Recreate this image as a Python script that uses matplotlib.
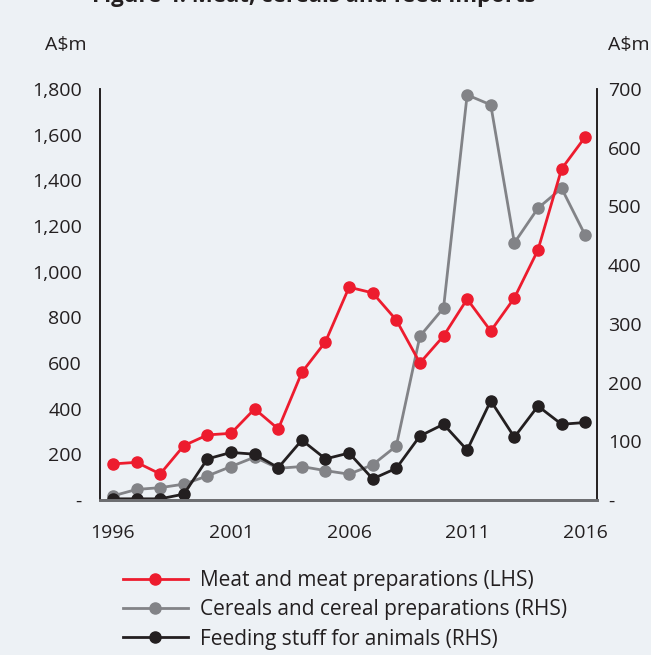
import matplotlib.pyplot as plt

plt.rcParams['font.family'] = ['Open Sans', 'DejaVu Sans']

years = list(range(1996, 2017))

# A$m, left axis
meat = [158, 165, 114, 238, 285, 292, 399, 311, 559, 693, 932,
        907, 788, 600, 718, 880, 740, 885, 1095, 1450, 1590]
# A$m, right axis
cereals = [7, 18, 21, 27, 41, 57, 73, 54, 57, 50, 44,
           60, 92, 279, 327, 690, 673, 438, 497, 531, 451]
feed = [2, 2, 2, 10, 70, 81, 78, 55, 102, 70, 80,
        36, 54, 109, 129, 85, 169, 107, 160, 129, 132]

left_ticks = [0, 200, 400, 600, 800, 1000, 1200, 1400, 1600, 1800]
left_labels = ['-', '200', '400', '600', '800', '1,000', '1,200', '1,400', '1,600', '1,800']
right_ticks = [0, 100, 200, 300, 400, 500, 600, 700]
right_labels = ['-', '100', '200', '300', '400', '500', '600', '700']
x_ticks = [1996, 2001, 2006, 2011, 2016]

bg = '#edf1f5'
red = '#ed1c2e'
grey = '#828387'
black = '#231f20'
txt = '#231f20'

fig = plt.figure(figsize=(6.51, 6.55), dpi=100, facecolor=bg)
ax = fig.add_axes([100/651, 155/655, 497/651, 411/655])
ax2 = ax.twinx()
ax.set_zorder(ax2.get_zorder() + 1)
ax.patch.set_visible(False)
ax2.set_facecolor(bg)

ax2.plot(years, cereals, color=grey, lw=2, marker='o', ms=8, label='Cereals and cereal preparations (RHS)')
ax2.plot(years, feed, color=black, lw=2, marker='o', ms=8, label='Feeding stuff for animals (RHS)')
ax.plot(years, meat, color=red, lw=2, marker='o', ms=8, label='Meat and meat preparations (LHS)')

ax.set_xlim(1995.45, 2016.5)
ax.set_ylim(0, 1800)
ax2.set_ylim(0, 700)

ax.set_yticks(left_ticks)
ax.set_yticklabels(left_labels)
ax2.set_yticks(right_ticks)
ax2.set_yticklabels(right_labels)
ax.set_xticks(x_ticks)
ax.set_xticklabels([str(x) for x in x_ticks])

ax.tick_params(axis='y', length=0, pad=13, labelsize=14, labelcolor=txt)
ax.tick_params(axis='x', length=0, pad=17, labelsize=14, labelcolor=txt)
ax2.tick_params(axis='y', length=0, pad=8, labelsize=14, labelcolor=txt)

for a in (ax, ax2):
    a.spines['top'].set_visible(False)
    a.spines['left'].set_color(black)
    a.spines['right'].set_color(black)
    a.spines['left'].set_linewidth(1.2)
    a.spines['right'].set_linewidth(1.2)
    a.spines['bottom'].set_color('#6d6e71')
    a.spines['bottom'].set_linewidth(2)

fig.text(45/651, 1 - 45/655, 'A$m', fontsize=14, va='center', ha='left', color=txt)
fig.text(608/651, 1 - 45/655, 'A$m', fontsize=14, va='center', ha='left', color=txt)

# title, cut off at the top edge as in the original
fig.text(92/651, 1 - 2/655, 'Figure 4: Meat, cereals and feed imports', fontsize=16,
         fontweight='bold', va='baseline', ha='left', color=txt)

h1, l1 = ax.get_legend_handles_labels()
h2, l2 = ax2.get_legend_handles_labels()
fig.legend(h1 + h2, l1 + l2, loc='upper left', bbox_to_anchor=(123/651, 1 - 570/655),
           frameon=False, fontsize=15, handlelength=3.1, handletextpad=0.6,
           labelspacing=0.4, borderpad=0, borderaxespad=0, labelcolor=txt)

fig.savefig('out.png', dpi=100, facecolor=bg)
